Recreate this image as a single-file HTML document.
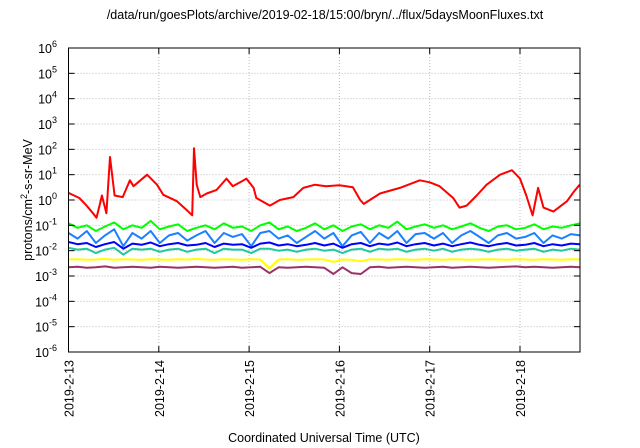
<!DOCTYPE html>
<html><head><meta charset="utf-8"><style>
body{margin:0;background:#fff;}
svg{display:block;font-family:"Liberation Sans",sans-serif;}
</style></head><body>
<svg id="chart" width="640" height="448" xmlns="http://www.w3.org/2000/svg">
<rect width="640" height="448" fill="#fff"/>
<text x="325" y="19" font-size="12.5" text-anchor="middle">/data/run/goesPlots/archive/2019-02-18/15:00/bryn/../flux/5daysMoonFluxes.txt</text>
<text transform="translate(32,200) rotate(-90)" font-size="12.5" text-anchor="middle">protons/cm<tspan dy="-5" font-size="9">2</tspan><tspan dy="5">-s-sr-MeV</tspan></text>
<text x="324" y="442" font-size="12.5" text-anchor="middle">Coordinated Universal Time (UTC)</text>
<g id="grid"></g><g id="series"></g><g id="axes"></g>
</svg>
<script>
const xTickLabels=["2019-2-13","2019-2-14","2019-2-15","2019-2-16","2019-2-17","2019-2-18"];
const yExponents=[-6,-5,-4,-3,-2,-1,0,1,2,3,4,5,6];
const redDays=[0,0.12,0.2,0.27,0.31,0.35,0.37,0.42,0.46,0.51,0.6,0.68,0.72,0.87,0.98,1.05,1.2,1.31,1.37,1.39,1.42,1.46,1.53,1.64,1.75,1.82,1.9,1.97,2.05,2.08,2.23,2.34,2.49,2.6,2.73,2.85,3.0,3.15,3.23,3.27,3.45,3.67,3.89,4.0,4.11,4.26,4.33,4.41,4.52,4.63,4.78,4.91,5.0,5.07,5.14,5.2,5.26,5.37,5.52,5.59,5.66];
const redFlux=[1.9,1.2,0.6,0.3,0.2,0.75,1.5,0.3,50,1.5,1.3,6,3.5,10,4,1.6,0.9,0.4,0.25,110,4,1.3,1.8,2.5,7,3.5,5,7,3,1.2,0.6,1,1.3,3,4,3.5,3.8,3.2,1,0.7,1.8,3,6,5,3.5,1.2,0.5,0.6,1.5,4,10,15,7,1.5,0.25,3,0.5,0.35,0.9,2,4];
const greenFlux=[0.12,0.08,0.1,0.06,0.09,0.13,0.07,0.1,0.08,0.15,0.07,0.09,0.11,0.06,0.08,0.1,0.07,0.12,0.08,0.09,0.06,0.1,0.13,0.07,0.09,0.06,0.08,0.12,0.07,0.1,0.06,0.09,0.11,0.07,0.1,0.08,0.14,0.07,0.09,0.11,0.08,0.1,0.07,0.09,0.12,0.08,0.06,0.09,0.1,0.07,0.08,0.11,0.07,0.09,0.08,0.1,0.12];
const lightBlueFlux=[0.05,0.03,0.06,0.02,0.04,0.07,0.015,0.05,0.03,0.06,0.02,0.04,0.05,0.025,0.04,0.06,0.02,0.05,0.035,0.045,0.015,0.05,0.06,0.03,0.04,0.02,0.035,0.06,0.03,0.05,0.015,0.04,0.055,0.02,0.05,0.03,0.06,0.02,0.045,0.05,0.03,0.05,0.02,0.04,0.06,0.035,0.02,0.04,0.05,0.03,0.035,0.05,0.02,0.04,0.03,0.045,0.04];
const blueFlux=[0.022,0.018,0.02,0.014,0.018,0.022,0.012,0.019,0.017,0.021,0.015,0.018,0.02,0.016,0.017,0.02,0.014,0.019,0.017,0.018,0.013,0.019,0.021,0.016,0.018,0.015,0.017,0.02,0.016,0.019,0.013,0.018,0.02,0.015,0.019,0.017,0.021,0.015,0.018,0.02,0.016,0.019,0.015,0.018,0.021,0.017,0.015,0.018,0.02,0.016,0.017,0.02,0.015,0.018,0.016,0.019,0.018];
const tealFlux=[0.013,0.011,0.012,0.008,0.011,0.013,0.007,0.012,0.011,0.012,0.009,0.011,0.012,0.009,0.011,0.012,0.008,0.012,0.011,0.011,0.008,0.012,0.012,0.01,0.011,0.009,0.011,0.012,0.01,0.011,0.008,0.011,0.012,0.009,0.012,0.011,0.012,0.009,0.011,0.012,0.01,0.012,0.009,0.011,0.012,0.011,0.009,0.011,0.012,0.01,0.011,0.012,0.009,0.011,0.01,0.012,0.011];
const yellowFlux=[0.0045,0.0046,0.0044,0.0045,0.0047,0.0044,0.0046,0.0045,0.0044,0.0046,0.0045,0.0044,0.0046,0.0045,0.0047,0.0045,0.0044,0.0046,0.0045,0.0044,0.0046,0.0045,0.002,0.0045,0.0046,0.0044,0.0045,0.0046,0.0045,0.0036,0.0045,0.0044,0.0038,0.0046,0.0045,0.0044,0.0046,0.0045,0.0044,0.0046,0.0045,0.0044,0.0046,0.0045,0.0044,0.0045,0.0046,0.0045,0.0044,0.0046,0.0045,0.0044,0.0046,0.0045,0.0044,0.0046,0.0045];
const purpleFlux=[0.0022,0.0023,0.0021,0.0022,0.0024,0.0021,0.0022,0.0023,0.0022,0.0021,0.0023,0.0022,0.0021,0.0022,0.0023,0.0022,0.0021,0.0022,0.0023,0.0021,0.0022,0.0023,0.0013,0.0022,0.0021,0.0022,0.0023,0.0022,0.0021,0.0012,0.0022,0.0013,0.0012,0.0022,0.0023,0.0021,0.0022,0.0023,0.0022,0.0021,0.0022,0.0023,0.0021,0.0022,0.0023,0.0022,0.0021,0.0022,0.0023,0.0024,0.0022,0.0023,0.0022,0.0021,0.0022,0.0023,0.0022];

const L=68.5,R=580,T=48,B=352,DAYW=90.3,XMAX=(R-L)/DAYW;
const xs=d=>L+d*DAYW;
const ys=v=>B-(Math.log10(v)+6)*(B-T)/12;
const NS="http://www.w3.org/2000/svg";
function mk(tag,parent){const e=document.createElementNS(NS,tag);parent.appendChild(e);return e;}
const grid=document.getElementById('grid'),axes=document.getElementById('axes'),ser=document.getElementById('series');

yExponents.forEach(p=>{
  const y=B-(p+6)*(B-T)/12;
  if(p>-6&&p<6){const g=mk('line',grid);
    
    
    g.setAttribute('x1',L);g.setAttribute('x2',R);g.setAttribute('y1',y);g.setAttribute('y2',y);
    g.setAttribute('stroke','#bbb');g.setAttribute('stroke-dasharray','1,2');}
  [[L,L+6],[R,R-6]].forEach(([a,b])=>{const t=mk('line',axes);
    
    
    t.setAttribute('x1',a);t.setAttribute('x2',b);t.setAttribute('y1',y);t.setAttribute('y2',y);t.setAttribute('stroke','#000');});
  const tx=mk('text',axes);
  
  
  tx.setAttribute('x',57);tx.setAttribute('y',y+5);tx.setAttribute('font-size','12.5');tx.setAttribute('text-anchor','end');
  tx.innerHTML='10<tspan dy="-6" font-size="9">'+p+'</tspan>';
});
xTickLabels.forEach((lab,i)=>{
  const x=xs(i);
  if(i>0){const g=mk('line',grid);
    
    
    g.setAttribute('x1',x);g.setAttribute('x2',x);g.setAttribute('y1',T);g.setAttribute('y2',B);
    g.setAttribute('stroke','#bbb');g.setAttribute('stroke-dasharray','1,2');}
  [[B,B-6],[T,T+6]].forEach(([a,b])=>{const t=mk('line',axes);
    
    
    t.setAttribute('x1',x);t.setAttribute('x2',x);t.setAttribute('y1',a);t.setAttribute('y2',b);t.setAttribute('stroke','#000');});
  const tx=mk('text',axes);
  
  
  tx.setAttribute('transform','translate('+(x+5)+',360) rotate(-90)');
  tx.setAttribute('font-size','12.5');tx.setAttribute('text-anchor','end');
  tx.textContent=lab;
});
const fr=mk('rect',axes);


fr.setAttribute('x',L);fr.setAttribute('y',T);fr.setAttribute('width',R-L);fr.setAttribute('height',B-T);
fr.setAttribute('fill','none');fr.setAttribute('stroke','#000');

function drawLine(days,vals,color,name){
  const p=mk('polyline',ser);
  
  
  p.setAttribute('points',vals.map((v,i)=>xs(Math.min(days(i),XMAX)).toFixed(1)+','+ys(v).toFixed(1)).join(' '));
  p.setAttribute('fill','none');p.setAttribute('stroke',color);p.setAttribute('stroke-width','2');p.setAttribute('stroke-linejoin','round');
}
const nd=i=>i*XMAX/(greenFlux.length-1);
drawLine(nd,greenFlux,'#00ff00','green-series');
drawLine(nd,lightBlueFlux,'#1a80ff','light-blue-series');
drawLine(nd,blueFlux,'#0000ff','blue-series');
drawLine(nd,tealFlux,'#20c8a0','teal-series');
drawLine(nd,yellowFlux,'#ffff00','yellow-series');
drawLine(nd,purpleFlux,'#993366','purple-series');
drawLine(i=>redDays[i],redFlux,'#ff0000','red-series');
</script>
</body></html>
